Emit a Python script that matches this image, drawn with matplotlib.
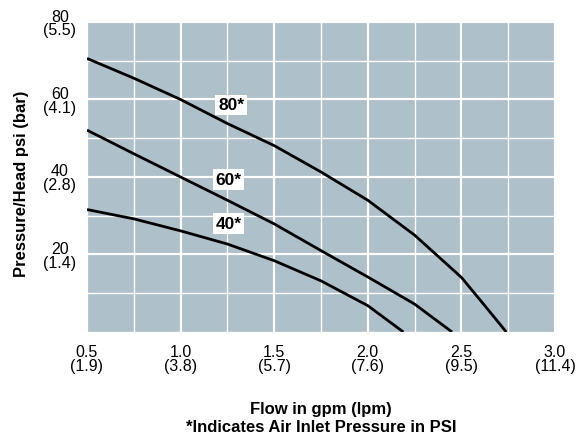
import numpy as np
import matplotlib.pyplot as plt
from matplotlib.ticker import MultipleLocator

plt.rcParams['font.family'] = ['Liberation Sans', 'DejaVu Sans']

# flow (gpm) vs pressure/head (psi)
flow_80 = [0.5, 0.75, 1.0, 1.25, 1.5, 1.75, 2.0, 2.25, 2.5, 2.625, 2.74]
head_80 = [70.6, 65.5, 60.0, 53.8, 48.1, 41.3, 34.0, 25.0, 14.1, 6.8, 0.0]

flow_60 = [0.5, 0.75, 1.0, 1.25, 1.5, 1.75, 2.0, 2.25, 2.45]
head_60 = [52.1, 46.0, 40.0, 34.0, 27.9, 21.0, 14.2, 7.2, 0.0]

flow_40 = [0.5, 0.75, 1.0, 1.25, 1.5, 1.75, 2.0, 2.19]
head_40 = [31.6, 29.2, 26.1, 22.7, 18.4, 13.2, 6.8, 0.0]

curve_labels = ["80*", "60*", "40*"]
label_x = [1.27, 1.255, 1.255]
label_y = [58.6, 39.4, 28.0]

x_ticks = [0.5, 1.0, 1.5, 2.0, 2.5, 3.0]
x_ticklabels = ["0.5\n(1.9)", "1.0\n(3.8)", "1.5\n(5.7)", "2.0\n(7.6)", "2.5\n(9.5)", "3.0\n(11.4)"]
y_ticks = [20, 40, 60, 80]
y_ticklabels = ["20\n(1.4)", "40\n(2.8)", "60\n(4.1)", "80\n(5.5)"]

fig = plt.figure(figsize=(5.76, 4.39), dpi=100)
ax = fig.add_axes([0.151, 0.2415, 0.8125, 0.7061])
ax.set_facecolor("#aec0ca")

ax.set_xlim(0.5, 3.0)
ax.set_ylim(0, 80)

ax.xaxis.set_minor_locator(MultipleLocator(0.25))
ax.yaxis.set_minor_locator(MultipleLocator(10))
ax.grid(True, which="major", color="white", linewidth=1.6)
ax.grid(True, which="minor", color="white", linewidth=1.0)
ax.set_axisbelow(True)

for f, h in [(flow_80, head_80), (flow_60, head_60), (flow_40, head_40)]:
    ax.plot(f, h, color="black", linewidth=2.0, solid_capstyle="butt",
            solid_joinstyle="round")

for txt, lx, ly in zip(curve_labels, label_x, label_y):
    ax.text(lx, ly, txt, fontsize=12.5, fontweight="bold", ha="center", va="center",
            bbox=dict(facecolor="white", edgecolor="none", pad=2))

ax.set_xticks(x_ticks)
ax.set_xticklabels(x_ticklabels, fontsize=11.5, linespacing=0.9)
ax.set_yticks(y_ticks)
ax.set_yticklabels(y_ticklabels, fontsize=11.5, linespacing=0.9, ha="center")
ax.tick_params(axis="both", which="both", length=0)
ax.tick_params(axis="x", pad=9)
ax.tick_params(axis="y", pad=19.5)

for s in ax.spines.values():
    s.set_visible(False)

ax.set_xlabel("Flow in gpm (lpm)\n*Indicates Air Inlet Pressure in PSI",
              fontsize=12, fontweight="bold", labelpad=20, linespacing=1.25)
ax.set_ylabel("Pressure/Head psi (bar)", fontsize=12, fontweight="bold")
ax.yaxis.set_label_coords(-0.123, 0.48)

fig.savefig("out.png", dpi=100)
